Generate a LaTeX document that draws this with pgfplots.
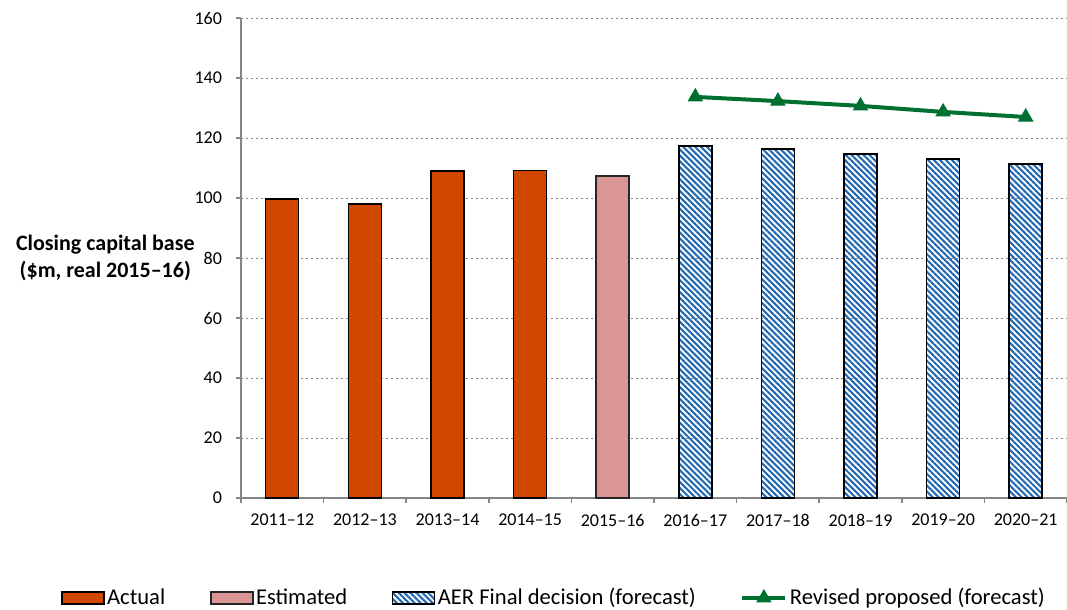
\documentclass[border=0pt]{standalone}
\usepackage{fontspec}
\setmainfont{Carlito}
\usepackage{pgfplots}
\pgfplotsset{compat=1.18}
\usetikzlibrary{patterns.meta}
\definecolor{actual}{RGB}{210,71,0}
\definecolor{estim}{RGB}{217,150,148}
\definecolor{hatch}{RGB}{35,105,178}
\definecolor{lgreen}{RGB}{0,112,48}
\definecolor{axgray}{RGB}{134,134,134}
\pgfplotsset{
  barleg/.style={legend image code/.code={\draw[##1,/tikz/.cd] (0pt,-3pt) rectangle (21pt,3pt);}},
  lineleg/.style={legend image code/.code={\draw[mark repeat=2,mark phase=2,##1] plot coordinates {(4pt,0pt) (14.75pt,0pt) (25.5pt,0pt)};}},
}
\begin{document}
\begin{tikzpicture}
\begin{axis}[
  width=413pt, height=240pt, scale only axis,
  xmin=-0.5, xmax=9.5, ymin=0, ymax=160,
  axis lines*=left,
  axis line style={axgray, line width=0.75pt},
  ytick={0,20,...,160},
  xtick={0,...,9},
  xticklabels={2011–12,2012–13,2013–14,2014–15,2015–16,2016–17,2017–18,2018–19,2019–20,2020–21},
  minor xtick={-0.5,0.5,...,9.5},
  tick align=outside,
  major tick length=2.5pt, minor tick length=2.5pt,
  major x tick style={draw=none},
  minor x tick style={axgray, line width=0.75pt},
  ytick style={axgray, line width=0.75pt},
  ymajorgrids,
  grid style={axgray, line width=0.5pt, dash pattern=on 1pt off 1.5pt},
  ticklabel style={font=\fontsize{9}{11}\selectfont},
  yticklabel style={xshift=-3.5pt},
  xticklabel style={yshift=-2pt},
  /pgf/number format/assume math mode=true,
  ylabel={Closing capital base\\(\$m, real 2015–16)},
  ylabel style={rotate=-90, at={(rel axis cs:-0.0557,0.5)}, anchor=east, align=center, font=\bfseries\fontsize{11}{13.5}\selectfont, inner sep=0pt},
  legend style={at={(rel axis cs:-0.2179,-0.2083)}, anchor=west, draw=none, legend columns=4,
    font=\fontsize{11.3}{13}\selectfont, inner sep=0pt,
    /tikz/every even column/.append style={column sep=21pt},
    nodes={inner sep=1.25pt}},
]
\addplot[ybar, barleg, bar width=16.5pt, bar shift=0pt, fill=actual, draw=black, line width=0.6pt]
  coordinates {(0,99.7) (1,98.0) (2,109.0) (3,109.1)};
\addlegendentry{Actual}
\addplot[ybar, barleg, bar width=16.5pt, bar shift=0pt, fill=estim, draw=black!85, line width=0.9pt]
  coordinates {(4,107.3)};
\addlegendentry{Estimated}
\addplot[ybar, barleg, bar width=16.5pt, bar shift=0pt, pattern color=hatch, pattern={Lines[angle=-45,distance=2.1pt,line width=1.05pt]}, draw=black, line width=0.75pt]
  coordinates {(5,117.3) (6,116.3) (7,114.7) (8,113.0) (9,111.3)};
\addlegendentry{AER Final decision (forecast)}
\addplot[lineleg, lgreen, line width=2pt, mark=triangle*, mark size=4pt, mark options={line width=0.5pt, solid}]
  coordinates {(5,133.7) (6,132.3) (7,130.7) (8,128.7) (9,127.0)};
\addlegendentry{Revised proposed (forecast)}
\coordinate (bbsw) at (rel axis cs:-0.2918,-0.2333);
\coordinate (bbne) at (rel axis cs:1,1.0375);
\end{axis}
\pgfresetboundingbox
\path[use as bounding box] (bbsw) rectangle (bbne);
\end{tikzpicture}
\end{document}
